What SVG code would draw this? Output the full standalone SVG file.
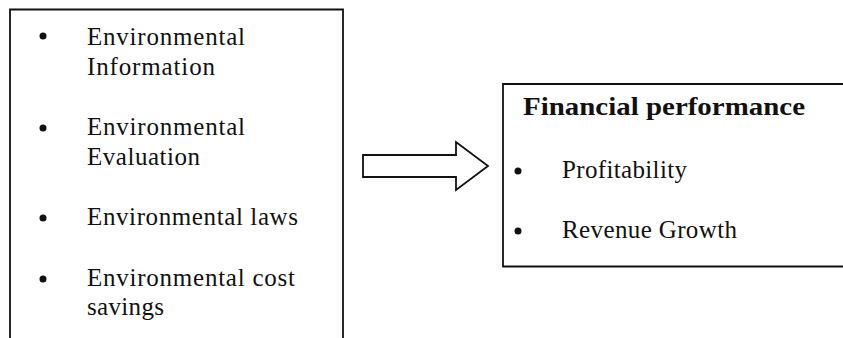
<svg xmlns="http://www.w3.org/2000/svg" width="843" height="338" viewBox="0 0 843 338">
<style>
.t{font-family:"Liberation Serif","Times New Roman",serif;font-size:25px;fill:#111}
.b{font-family:"Liberation Serif","Times New Roman",serif;font-size:25px;font-weight:bold;fill:#111}
.box{fill:none;stroke:#111;stroke-width:1.8}
.dot{fill:#111}
</style>
<rect width="843" height="338" fill="#fff"/>
<g id="left-box">
<path class="box" d="M10,340 V9.5 H343 V340"/>
<circle class="dot" cx="43" cy="36" r="3.5"/>
<text class="t" x="87" y="45" textLength="158">Environmental</text>
<text class="t" x="87" y="75" textLength="128">Information</text>
<circle class="dot" cx="43" cy="128" r="3.5"/>
<text class="t" x="87" y="135" textLength="158">Environmental</text>
<text class="t" x="87" y="165" textLength="113">Evaluation</text>
<circle class="dot" cx="43" cy="218" r="3.5"/>
<text class="t" x="87" y="225" textLength="211">Environmental laws</text>
<circle class="dot" cx="43" cy="279" r="3.5"/>
<text class="t" x="87" y="286" textLength="208">Environmental cost</text>
<text class="t" x="87" y="315" textLength="77">savings</text>
</g>
<g id="connectors">
<polygon points="363,155 456,155 456,142 488,166 456,190 456,177 363,177" fill="#fff" stroke="#111" stroke-width="1.8" stroke-linejoin="miter"/>
</g>
<g id="right-box">
<path class="box" d="M850,84 H503 V266.5 H850"/>
<text class="b" x="523" y="115" textLength="282" lengthAdjust="spacingAndGlyphs">Financial performance</text>
<circle class="dot" cx="518" cy="171" r="3.5"/>
<text class="t" x="562" y="178" textLength="125">Profitability</text>
<circle class="dot" cx="518" cy="231" r="3.5"/>
<text class="t" x="562" y="238" textLength="175">Revenue Growth</text>
</g>
</svg>
